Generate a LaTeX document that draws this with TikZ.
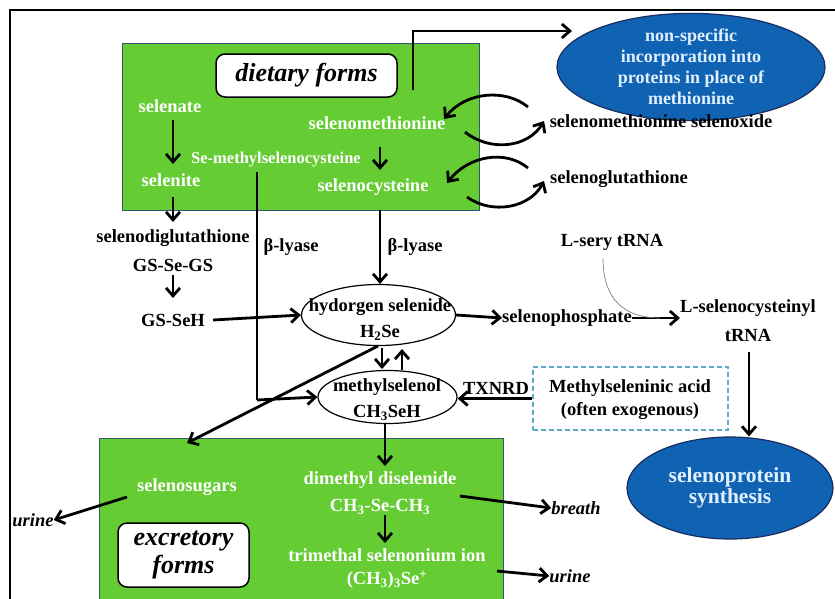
\documentclass[tikz,border=0pt]{standalone}
\usepackage{fontspec}
\setmainfont{Liberation Serif}
\usetikzlibrary{arrows.meta,shapes.geometric}
\definecolor{boxgreen}{RGB}{102,204,51}
\definecolor{boxedge}{RGB}{50,90,110}
\definecolor{ellblue}{RGB}{16,98,178}
\definecolor{elledge}{RGB}{25,45,95}
\definecolor{elltext}{RGB}{225,240,255}
\definecolor{dashblue}{RGB}{95,170,200}
\begin{document}
\begin{tikzpicture}[x=1pt,y=-1pt,
  lbl/.style={font=\fontsize{18.5}{21}\selectfont\bfseries, inner sep=0pt, text=black},
  wlbl/.style={lbl, text=white},
  slbl/.style={font=\fontsize{16.5}{19}\selectfont\bfseries, inner sep=0pt, text=white},
  ilbl/.style={font=\fontsize{18.5}{21}\selectfont\bfseries\itshape, inner sep=0pt},
  formbox/.style={draw=black, line width=1.5pt, fill=white, rounded corners=9pt},
  greenbox/.style={draw=boxedge, line width=1pt, fill=boxgreen},
  blueell/.style={ellipse, draw=elledge, line width=1.2pt, fill=ellblue, text=elltext, align=center, inner sep=0pt},
  whiteell/.style={ellipse, draw=black, line width=1.2pt, fill=white, align=center, inner sep=0pt},
  tipstyle/.style={-{Straight Barb[length=8pt,width=14pt,line width=2.8pt]}},
  arr/.style={line width=2.8pt, tipstyle},
  ln/.style={line width=2.8pt}
]
\useasboundingbox (0,0) rectangle (835,598);
\fill[white] (0,0) rectangle (835,598);
% frame
\draw[line width=2.5pt] (10,600) -- (10,10) -- (840,10);

% green boxes
\draw[greenbox] (122,43) rectangle (479,210);
\draw[greenbox] (99,438) rectangle (503,605);

\node[formbox, minimum width=181pt, minimum height=43pt] (diet) at (306.5,75.5) {};
\node[font=\fontsize{26}{28}\selectfont\bfseries\itshape, inner sep=0pt] (diettxt) at (306.5,75) {dietary forms};

\node[formbox, minimum width=131pt, minimum height=64pt] (excr) at (183.5,555) {};
\node[font=\fontsize{26}{28}\selectfont\bfseries\itshape, inner sep=0pt, align=center] (excrtxt) at (183.5,555) {excretory\\forms};

% ellipses
\node[blueell, minimum width=268pt, minimum height=90pt, font=\fontsize{18}{21}\selectfont\bfseries] (nonspec) at (691,67) {non-specific\\incorporation into\\proteins in place of\\methionine};
\node[blueell, minimum width=206pt, minimum height=102pt, font=\fontsize{21.5}{21}\selectfont\bfseries] (selprot) at (730,488) {selenoprotein\\synthesis};
\node[whiteell, minimum width=154pt, minimum height=61pt] (hse) at (378.5,315) {};
\node[lbl] (hsetxt1) at (380,307) {hydorgen selenide};
\node[lbl] (hsetxt2) at (380,333) {H\textsubscript{2}Se};
\node[whiteell, minimum width=139pt, minimum height=53pt] (msel) at (387.5,397) {};
\node[lbl] (mseltxt1) at (387,387) {methylselenol};
\node[lbl] (mseltxt2) at (387,413) {CH\textsubscript{3}SeH};

% dashed box
\node[draw=dashblue, dashed, dash pattern=on 5pt off 3pt, line width=1.2pt, minimum width=195pt, minimum height=63pt, inner sep=0pt] (msa) at (630.5,398.5) {};
\node[lbl] (msatxt1) at (630,388) {Methylseleninic acid};
\node[lbl] (msatxt2) at (630,411) {(often exogenous)};

% texts in top green box
\node[wlbl] (selenate) at (170,106) {selenate};
\node[wlbl] (selenite) at (171,180) {selenite};
\node[slbl] (smsc) at (276,160) {Se-methylselenocysteine};
\node[wlbl] (semet) at (377,123) {selenomethionine};
\node[wlbl] (secys) at (373,187) {selenocysteine};

% right side labels
\node[lbl] (selox) at (661,121) {selenomethionine selenoxide};
\node[lbl] (selglu) at (619,179) {selenoglutathione};

% middle labels
\node[lbl] (sdg) at (173,238) {selenodiglutathione};
\node[lbl] (gsseg) at (173,265) {GS-Se-GS};
\node[lbl] (gsseh) at (173,320) {GS-SeH};
\node[lbl] (blyase1) at (291,247) {β-lyase};
\node[lbl] (blyase2) at (415,247) {β-lyase};
\node[lbl] (sphos) at (567,318) {selenophosphate};
\node[lbl] (lsery) at (612,242) {L-sery tRNA};
\node[lbl] (lsec1) at (748,308) {L-selenocysteinyl};
\node[lbl] (lsec2) at (748,335) {tRNA};
\node[lbl] (txnrd) at (496,388) {TXNRD};

% bottom box texts
\node[wlbl] (ssug) at (187,487) {selenosugars};
\node[wlbl] (dmds) at (380,480) {dimethyl diselenide};
\node[wlbl] (dmds2) at (380,507) {CH\textsubscript{3}-Se-CH\textsubscript{3}};
\node[wlbl] (tmse) at (387,555) {trimethal selenonium ion};
\node[wlbl] (tmse2) at (387,580) {(CH\textsubscript{3})\textsubscript{3}Se\textsuperscript{+}};
\node[ilbl] (urine1) at (33,520) {urine};
\node[ilbl] (breath) at (576,508) {breath};
\node[ilbl] (urine2) at (570,576) {urine};

% coordinates for connectors
\coordinate (dietout) at (413,90);
\coordinate (nsin) at (572,31);

% connectors in top box
\draw[arr] (173,120) -- (173,164);
\draw[arr] (380,147) -- (380,170);
\draw[ln, tipstyle] (dietout) -- (413,31) -- (nsin);

% curved arrows
\draw[arr] (528,107) .. controls (505,88) and (465,92) .. (444,119);
\draw[arr] (465,132) .. controls (490,152) and (528,148) .. (544,121);
\draw[arr] (528,168) .. controls (505,149) and (468,156) .. (447,183);
\draw[arr] (467,197) .. controls (492,215) and (530,208) .. (544,181);

% middle
\draw[arr] (173,197) -- (173,222);
\draw[arr] (173,275) -- (173,298);
\draw[arr] (gsseh.east) ++(8,0) -- (hse.west);
\draw[ln] (257,172) -- (257,400);
\draw[arr] (257,400) -- (msel.west);
\draw[arr] (380,210) -- (hse.north -| 380,0);
\draw[arr] (hse.east) -- (sphos.west);
\draw[arr] (sphos.east) -- (lsec1.west |- sphos.east);
\draw[gray, line width=0.7pt] (lsery.south) ++(-9,8) .. controls (603,300) and (625,318) .. (660,318);
\draw[arr] (749,352) -- (selprot.north -| 749,0);
\draw[arr] (msa.west) -- (msel.east |- msa.west);
\draw[arr] (382,348) -- (382,369);
\draw[arr] (402,370) -- (402,349);
\draw[arr] (378,346) -- (187,443);

% bottom
\draw[arr] (msel.south -| 385,0) -- (385,466);
\draw[arr] (385,515) -- (385,543);
\draw[arr] (127,497) -- (urine1.east);
\draw[arr] (460,496) -- (breath.west);
\draw[arr] (497,571) -- (urine2.west);
\end{tikzpicture}
\end{document}
